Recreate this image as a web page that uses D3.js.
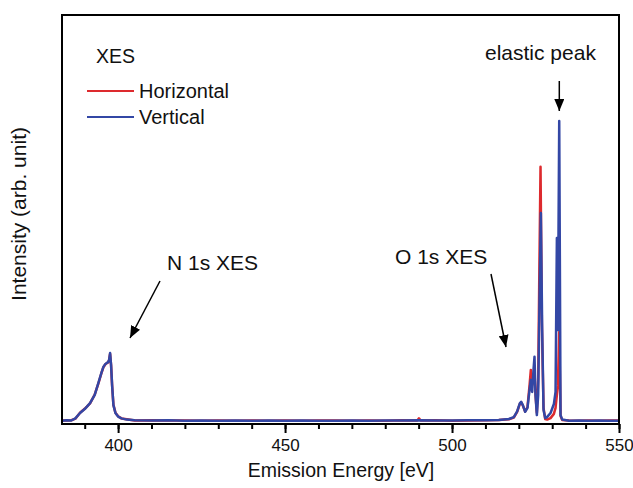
<!DOCTYPE html>
<html>
<head>
<meta charset="utf-8">
<script src="https://cdn.jsdelivr.net/npm/d3@7"></script>
<style>
  html, body { margin: 0; padding: 0; background: #fff; }
  svg { display: block; font-family: "Liberation Sans", Arial, sans-serif; }
</style>
</head>
<body>
<svg id="chart" width="633" height="488"></svg>
<script>
// ---- data ----
const seriesNames = ["Horizontal", "Vertical"];
const xTickValues = [400, 450, 500, 550];

const energyV = [383.3, 384.5, 386, 387.2, 388.6, 390, 391.6, 393, 394.1, 395, 395.6, 396.2, 396.6, 397.0, 397.3, 397.6, 397.9, 398.2, 398.6, 399.2, 400, 401, 402.6, 405, 410, 415, 420, 425, 430, 435, 440, 445, 450, 455, 460, 465, 470, 475, 480, 485, 490, 495, 500, 505, 510, 514, 517, 518.5, 519.5, 520.3, 520.7, 521.2, 521.9, 522.6, 523.2, 523.6, 524.0, 524.4, 524.7, 525.0, 525.4, 525.8, 526.2, 526.6, 527.0, 527.4, 527.9, 528.5, 529.5, 530.5, 531.0, 531.4, 531.7, 532.1, 532.5, 533, 535, 538, 541, 544, 547, 550];
const intensityV = [0.004, 0.006, 0.005, 0.012, 0.030, 0.043, 0.063, 0.090, 0.130, 0.163, 0.183, 0.193, 0.196, 0.199, 0.206, 0.229, 0.189, 0.123, 0.056, 0.030, 0.018, 0.012, 0.008, 0.006, 0.005, 0.006, 0.004, 0.005, 0.004, 0.005, 0.004, 0.005, 0.004, 0.005, 0.004, 0.004, 0.005, 0.004, 0.005, 0.005, 0.006, 0.005, 0.005, 0.006, 0.006, 0.007, 0.010, 0.016, 0.035, 0.062, 0.067, 0.056, 0.034, 0.047, 0.106, 0.140, 0.100, 0.173, 0.217, 0.090, 0.023, 0.090, 0.405, 0.694, 0.306, 0.040, 0.013, 0.017, 0.030, 0.060, 0.100, 0.611, 0.306, 1.000, 0.023, 0.008, 0.004, 0.005, 0.004, 0.005, 0.004, 0.004];

const energyH = [383.3, 384.5, 386, 387.2, 388.6, 390, 391.6, 393, 394.1, 395, 395.6, 396.2, 396.6, 397.0, 397.3, 397.6, 397.9, 398.2, 398.6, 399.2, 400, 401, 402.6, 405, 410, 415, 420, 425, 430, 435, 440, 445, 450, 455, 460, 465, 470, 475, 480, 485, 489.6, 490.1, 490.6, 495, 500, 505, 510, 514, 517, 518.5, 519.5, 520.3, 520.7, 521.2, 521.9, 522.6, 523.2, 523.6, 524.0, 524.4, 524.7, 525.0, 525.4, 525.8, 526.1, 526.5, 526.9, 527.4, 527.9, 528.5, 529.5, 530.5, 531.0, 531.4, 531.7, 532.1, 532.5, 533, 535, 538, 541, 544, 547, 550];
const intensityH = [0.005, 0.005, 0.006, 0.011, 0.031, 0.044, 0.062, 0.091, 0.128, 0.162, 0.182, 0.192, 0.195, 0.198, 0.205, 0.226, 0.188, 0.122, 0.057, 0.031, 0.019, 0.012, 0.009, 0.005, 0.006, 0.005, 0.005, 0.004, 0.005, 0.004, 0.005, 0.004, 0.005, 0.004, 0.005, 0.005, 0.004, 0.005, 0.004, 0.006, 0.005, 0.012, 0.005, 0.006, 0.004, 0.005, 0.006, 0.007, 0.009, 0.015, 0.034, 0.060, 0.066, 0.055, 0.035, 0.050, 0.120, 0.173, 0.123, 0.146, 0.166, 0.090, 0.030, 0.140, 0.450, 0.848, 0.330, 0.047, 0.010, 0.008, 0.013, 0.027, 0.047, 0.090, 0.120, 0.300, 0.020, 0.007, 0.005, 0.004, 0.005, 0.004, 0.005, 0.005];

const annotations = [
  { text: "N 1s XES", x: 167, y: 270 },
  { text: "O 1s XES", x: 395, y: 264 },
  { text: "elastic peak", x: 485, y: 60 }
];

// ---- layout ----
const svg = d3.select("#chart");
const L = 62, R = 619, T = 15, B = 424;
const colors = { Horizontal: "#dd2a2e", Vertical: "#3347a5" };

const x = d3.scaleLinear().domain([383.2, 550]).range([L, R]);
const y = d3.scaleLinear().domain([-0.0066, 1.352]).range([B, T]);

svg.append("defs").append("clipPath").attr("id", "clip")
  .append("rect").attr("x", L).attr("y", T).attr("width", R - L).attr("height", B - T);

const line = d3.line().x(d => x(d[0])).y(d => y(d[1]));
const dataH = energyH.map((e, i) => [e, intensityH[i]]);
const dataV = energyV.map((e, i) => [e, intensityV[i]]);

const g = svg.append("g").attr("clip-path", "url(#clip)");
g.append("path").datum(dataH).attr("d", line)
  .attr("fill", "none").attr("stroke", colors.Horizontal).attr("stroke-width", 2.5).attr("stroke-linejoin", "round");
g.append("path").datum(dataV).attr("d", line)
  .attr("fill", "none").attr("stroke", colors.Vertical).attr("stroke-width", 2.5).attr("stroke-linejoin", "round");

// minor ticks
const minorAxis = d3.axisBottom(x).tickValues(d3.range(390, 551, 10)).tickSize(5).tickFormat("");
const mg = svg.append("g").attr("transform", `translate(0,${B})`).call(minorAxis);
mg.select(".domain").remove();
mg.selectAll("line").attr("stroke", "#000").attr("stroke-width", 2);

// major ticks
const xAxis = d3.axisBottom(x).tickValues(xTickValues).tickSize(9).tickPadding(6).tickFormat(d3.format("d"));
const xg = svg.append("g").attr("transform", `translate(0,${B})`).call(xAxis);
xg.select(".domain").remove();
xg.selectAll("line").attr("stroke", "#000").attr("stroke-width", 2);
xg.selectAll("text").attr("font-size", 17).attr("fill", "#111")
  .attr("font-family", "Liberation Sans, Arial, sans-serif");

// frame
svg.append("rect").attr("x", L).attr("y", T).attr("width", R - L).attr("height", B - T)
  .attr("fill", "none").attr("stroke", "#000").attr("stroke-width", 2);

// axis titles
svg.append("text").attr("x", 341).attr("y", 477).attr("text-anchor", "middle")
  .attr("font-size", 19.5).attr("fill", "#111").text("Emission Energy [eV]");
svg.append("text").attr("transform", `translate(26,214) rotate(-90)`)
  .attr("text-anchor", "middle").attr("font-size", 21).attr("fill", "#111").text("Intensity (arb. unit)");

// legend
svg.append("text").attr("x", 96).attr("y", 63).attr("font-size", 19.5).attr("fill", "#111").text("XES");
seriesNames.forEach((name, i) => {
  const ly = 91 + i * 26;
  svg.append("line").attr("x1", 87).attr("x2", 134).attr("y1", ly).attr("y2", ly)
    .attr("stroke", colors[name]).attr("stroke-width", 2);
  svg.append("text").attr("x", 139).attr("y", ly + 7).attr("font-size", 20).attr("fill", "#111").text(name);
});

// annotations
annotations.forEach(a => {
  svg.append("text").attr("x", a.x).attr("y", a.y).attr("font-size", 21).attr("fill", "#111").text(a.text);
});

// arrows
const defs = svg.select("defs");
defs.append("marker").attr("id", "arrow").attr("viewBox", "0 0 12 10")
  .attr("refX", 12).attr("refY", 5).attr("markerWidth", 12).attr("markerHeight", 10)
  .attr("markerUnits", "userSpaceOnUse").attr("orient", "auto")
  .append("path").attr("d", "M0,0 L12,5 L0,10 Z").attr("fill", "#000");

const arrows = [
  { x1: 160, y1: 281, x2: 130, y2: 338 },
  { x1: 491, y1: 274, x2: 506, y2: 347 },
  { x1: 559.3, y1: 81, x2: 559.3, y2: 111 }
];
arrows.forEach(a => {
  svg.append("line").attr("x1", a.x1).attr("y1", a.y1).attr("x2", a.x2).attr("y2", a.y2)
    .attr("stroke", "#000").attr("stroke-width", 1.5).attr("marker-end", "url(#arrow)");
});
</script>
</body>
</html>
